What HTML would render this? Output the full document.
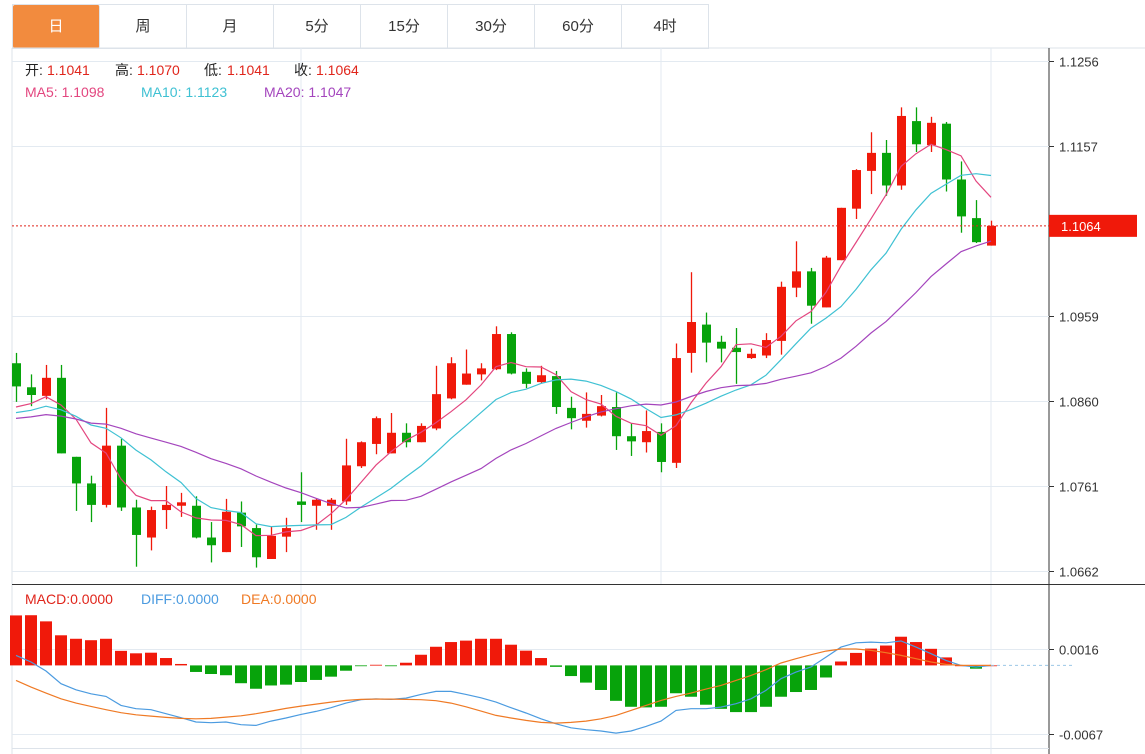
<!DOCTYPE html>
<html><head><meta charset="utf-8"><style>
body{margin:0;background:#fff;width:1145px;height:754px;overflow:hidden;font-family:"Liberation Sans","Noto Sans CJK SC",sans-serif}
.tabs{position:absolute;left:12px;top:4px;height:43px;display:flex;border:1px solid #dde3ea;border-right:none}
.tab{width:87px;height:43px;line-height:43px;text-align:center;font-size:15px;color:#333;border-right:1px solid #dde3ea;box-sizing:border-box}
.tab.on{background:#f28b3e;color:#fff;border-radius:2px}
svg{position:absolute;left:0;top:0}
</style></head><body>
<div class="tabs">
<div class="tab on">日</div>
<div class="tab">周</div>
<div class="tab">月</div>
<div class="tab">5分</div>
<div class="tab">15分</div>
<div class="tab">30分</div>
<div class="tab">60分</div>
<div class="tab">4时</div>
</div>
<svg id="chart" width="1145" height="754"></svg>
<script>
const opens=[1.0904,1.0876,1.0866,1.0887,1.0795,1.0764,1.0739,1.0808,1.0736,1.0701,1.0733,1.0738,1.0738,1.0701,1.0684,1.0730,1.0712,1.0676,1.0702,1.0743,1.0738,1.0738,1.0743,1.0784,1.0810,1.0799,1.0823,1.0812,1.0828,1.0863,1.0879,1.0891,1.0897,1.0938,1.0894,1.0882,1.0889,1.0852,1.0837,1.0843,1.0853,1.0819,1.0812,1.0824,1.0788,1.0916,1.0949,1.0929,1.0922,1.0910,1.0913,1.0930,1.0992,1.1011,1.0969,1.1024,1.1084,1.1128,1.1149,1.1111,1.1186,1.1158,1.1183,1.1118,1.1073,1.1041];
const closes=[1.0877,1.0867,1.0887,1.0799,1.0764,1.0739,1.0808,1.0736,1.0704,1.0733,1.0739,1.0742,1.0701,1.0692,1.0731,1.0714,1.0678,1.0703,1.0712,1.0739,1.0745,1.0745,1.0785,1.0812,1.0840,1.0823,1.0812,1.0831,1.0868,1.0904,1.0892,1.0898,1.0938,1.0892,1.0880,1.0890,1.0853,1.0840,1.0845,1.0854,1.0819,1.0813,1.0825,1.0789,1.0910,1.0952,1.0928,1.0921,1.0917,1.0915,1.0931,1.0993,1.1011,1.0971,1.1027,1.1085,1.1129,1.1149,1.1111,1.1192,1.1159,1.1184,1.1118,1.1075,1.1045,1.1064];
const highs=[1.0916,1.0891,1.0902,1.0902,1.0795,1.0773,1.0852,1.0816,1.0745,1.0737,1.0761,1.0753,1.0749,1.0719,1.0746,1.0743,1.0716,1.0714,1.0724,1.0777,1.0747,1.0747,1.0816,1.0813,1.0842,1.0846,1.0834,1.0834,1.0901,1.0911,1.0920,1.0904,1.0947,1.0940,1.0898,1.0901,1.0895,1.0865,1.0870,1.0867,1.0870,1.0834,1.0849,1.0834,1.0927,1.1010,1.0963,1.0936,1.0945,1.0921,1.0939,1.0999,1.1046,1.1015,1.1029,1.1085,1.1130,1.1173,1.1164,1.1202,1.1202,1.1191,1.1185,1.1139,1.1094,1.1070];
const lows=[1.0859,1.0854,1.0862,1.0799,1.0732,1.0719,1.0736,1.0732,1.0667,1.0686,1.0711,1.0725,1.0700,1.0672,1.0684,1.0690,1.0666,1.0676,1.0684,1.0719,1.0710,1.0710,1.0739,1.0782,1.0798,1.0799,1.0806,1.0812,1.0826,1.0862,1.0879,1.0884,1.0896,1.0891,1.0875,1.0881,1.0845,1.0827,1.0829,1.0842,1.0803,1.0796,1.0800,1.0777,1.0782,1.0893,1.0905,1.0905,1.0880,1.0909,1.0910,1.0914,1.0981,1.0950,1.0969,1.1024,1.1072,1.1101,1.1099,1.1106,1.1150,1.1150,1.1104,1.1056,1.1044,1.1041];
const priorCloses=[1.0833,1.0833,1.0833,1.0833,1.0833,1.0833,1.0833,1.0833,1.0833,1.0833,1.0840,1.0840,1.0840,1.0840,1.0840,1.0847,1.0847,1.0847,1.0847];
const diffs=[0.00098,0.00033,-0.00055,-0.00179,-0.00238,-0.00277,-0.00303,-0.00391,-0.00423,-0.00433,-0.00472,-0.00511,-0.00553,-0.0056,-0.00553,-0.00579,-0.00586,-0.00544,-0.00514,-0.00478,-0.00449,-0.00413,-0.00368,-0.00335,-0.00326,-0.00332,-0.00319,-0.00283,-0.00254,-0.00254,-0.00283,-0.00316,-0.00358,-0.00413,-0.00465,-0.00521,-0.0057,-0.00609,-0.00628,-0.00641,-0.00661,-0.00641,-0.00596,-0.00544,-0.00439,-0.00423,-0.00423,-0.00407,-0.00374,-0.00326,-0.00244,-0.0013,-0.00065,-0.00016,0.00081,0.00179,0.00221,0.00228,0.00221,0.00238,0.00179,0.00114,0.00049,0,-0.00016,0];
const deas=[-0.00146,-0.00212,-0.0027,-0.00326,-0.00368,-0.004,-0.00433,-0.00462,-0.00482,-0.00495,-0.00508,-0.00518,-0.00521,-0.00518,-0.00505,-0.00492,-0.00472,-0.00446,-0.0042,-0.00397,-0.00378,-0.00358,-0.00342,-0.00332,-0.00329,-0.00329,-0.00332,-0.00335,-0.00345,-0.00368,-0.00404,-0.00446,-0.00488,-0.00514,-0.00537,-0.00557,-0.00563,-0.00557,-0.00544,-0.00521,-0.00488,-0.00439,-0.00391,-0.00342,-0.00303,-0.0027,-0.00231,-0.00195,-0.00146,-0.00098,-0.00042,0.00023,0.00065,0.00104,0.0014,0.0016,0.0016,0.00146,0.00124,0.00098,0.00065,0.00033,0.0001,0,0,0];
const priceTicks=[1.1256,1.1157,1.0959,1.0860,1.0761,1.0662];
const macdTicks=[0.0016,-0.0067];
const lastPrice=1.1064;

const NS='http://www.w3.org/2000/svg';
const svg=document.getElementById('chart');
const RED='#f0190a',GREEN='#07a30b';
function x(i){return 8.5+(i+0.5)*15;}
function y(p){return 61+(1.1256-p)*8586;}
function my(v){return 665.4-v*10241;}
function el(tag,attrs,parent){const e=document.createElementNS(NS,tag);for(const k in attrs)e.setAttribute(k,attrs[k]);(parent||svg).appendChild(e);return e;}

// frames / grid
const frame=el('g',{});


el('line',{x1:12,y1:48,x2:1145,y2:48,stroke:'#dde3ea'},frame);
el('line',{x1:12,y1:48,x2:12,y2:754,stroke:'#dde3ea'},frame);
el('line',{x1:1049,y1:48,x2:1049,y2:754,stroke:'#333','stroke-width':1},frame);
el('line',{x1:12,y1:584.5,x2:1145,y2:584.5,stroke:'#333'},frame);
el('line',{x1:12,y1:748.5,x2:1049,y2:748.5,stroke:'#dde3ea'},frame);
[301,661,991].forEach(vx=>{el('line',{x1:vx,y1:48,x2:vx,y2:584,stroke:'#e3eaf1'},frame);});
[301,991].forEach(vx=>{el('line',{x1:vx,y1:585,x2:vx,y2:754,stroke:'#e3eaf1'},frame);});
priceTicks.forEach(t=>{const yy=Math.round(y(t))+0.5;
  el('line',{x1:12,y1:yy,x2:1049,y2:yy,stroke:'#e3eaf1'},frame);
  el('line',{x1:1049,y1:yy,x2:1054,y2:yy,stroke:'#333'},frame);
  const tx=el('text',{x:1059,y:yy+5,'font-size':13,fill:'#333'});tx.textContent=t.toFixed(4);
  
  
});
macdTicks.forEach(t=>{const yy=Math.round(my(t))+0.5;
  el('line',{x1:12,y1:yy,x2:1049,y2:yy,stroke:'#e3eaf1'},frame);
  el('line',{x1:1049,y1:yy,x2:1054,y2:yy,stroke:'#333'},frame);
  const tx=el('text',{x:1059,y:yy+5,'font-size':13,fill:'#333'});tx.textContent=t.toFixed(4);
  
  
});

// candles
const cg=el('g',{});


opens.forEach((o,i)=>{
  const c=closes[i],col=c>=o?RED:GREEN,cx=Math.round(x(i));
  const g=el('g',{},cg);
  
  
  el('line',{x1:cx+0.5,x2:cx+0.5,y1:y(highs[i]),y2:y(lows[i]),stroke:col,'stroke-width':1.3},g);
  const t=y(Math.max(o,c)),b=y(Math.min(o,c));
  el('rect',{x:cx-4,y:t,width:9,height:Math.max(1.5,b-t),fill:col},g);
});

// MAs
const all=priorCloses.concat(closes),P=priorCloses.length;
function ma(n,color,name){
  let d='';
  closes.forEach((c,i)=>{const j=P+i;const s=all.slice(Math.max(0,j-n+1),j+1);const v=s.reduce((a,b)=>a+b,0)/s.length;d+=(i?'L':'M')+x(i).toFixed(1)+' '+y(v).toFixed(1);});
  const p=el('path',{d:d,fill:'none',stroke:color,'stroke-width':1.2});
  
  
}
ma(5,'#e3467f','ma5-line');ma(10,'#3fc1d3','ma10-line');ma(20,'#a445bd','ma20-line');

// last price
const ly=y(lastPrice);
el('line',{x1:12,x2:1049,y1:ly,y2:ly,stroke:'#e0251b','stroke-dasharray':'2,2'});
const lb=el('rect',{x:1049,y:ly-11,width:88,height:22,fill:'#f0190a'});


const lt=el('text',{x:1061,y:ly+5,'font-size':13,fill:'#fff'});lt.textContent=lastPrice.toFixed(4);

// MACD histogram
const hg=el('g',{});


diffs.forEach((d,i)=>{
  const h=2*(d-deas[i]),z=my(0),v=my(h),cx=Math.round(x(i));
  const r=el('rect',{x:cx-6,y:Math.min(z,v),width:12,height:Math.max(0.8,Math.abs(v-z)),fill:h>=0?RED:GREEN},hg);
  
  
});
el('line',{x1:x(65),x2:1075,y1:my(0),y2:my(0),stroke:'#9cc7e6','stroke-dasharray':'3,3'});
function line(arr,color,name){let d='';arr.forEach((v,i)=>{d+=(i?'L':'M')+x(i).toFixed(1)+' '+my(v).toFixed(1);});
  const p=el('path',{d:d,fill:'none',stroke:color,'stroke-width':1.2});
  
  }
line(diffs,'#4b9be0','diff-line');line(deas,'#ef7a25','dea-line');

// legends
function txt(xx,yy,s,c,name){const t=el('text',{x:xx,y:yy,'font-size':14,fill:c,'font-family':'Liberation Sans, Noto Sans CJK SC, sans-serif'});t.textContent=s;
  
  return t;}
txt(25,75,'开:','#222','open-label');txt(47,75,'1.1041','#e0251b','open-value');
txt(115,75,'高:','#222','high-label');txt(137,75,'1.1070','#e0251b','high-value');
txt(204,75,'低:','#222','low-label');txt(227,75,'1.1041','#e0251b','low-value');
txt(294,75,'收:','#222','close-label');txt(316,75,'1.1064','#e0251b','close-value');
txt(25,97,'MA5:  1.1098','#e3467f','ma5-legend');
txt(141,97,'MA10:  1.1123','#3fc1d3','ma10-legend');
txt(264,97,'MA20:  1.1047','#a445bd','ma20-legend');
txt(25,604,'MACD:0.0000','#e0251b','macd-legend');
txt(141,604,'DIFF:0.0000','#4b9be0','diff-legend');
txt(241,604,'DEA:0.0000','#ef7a25','dea-legend');
</script>
</body></html>
